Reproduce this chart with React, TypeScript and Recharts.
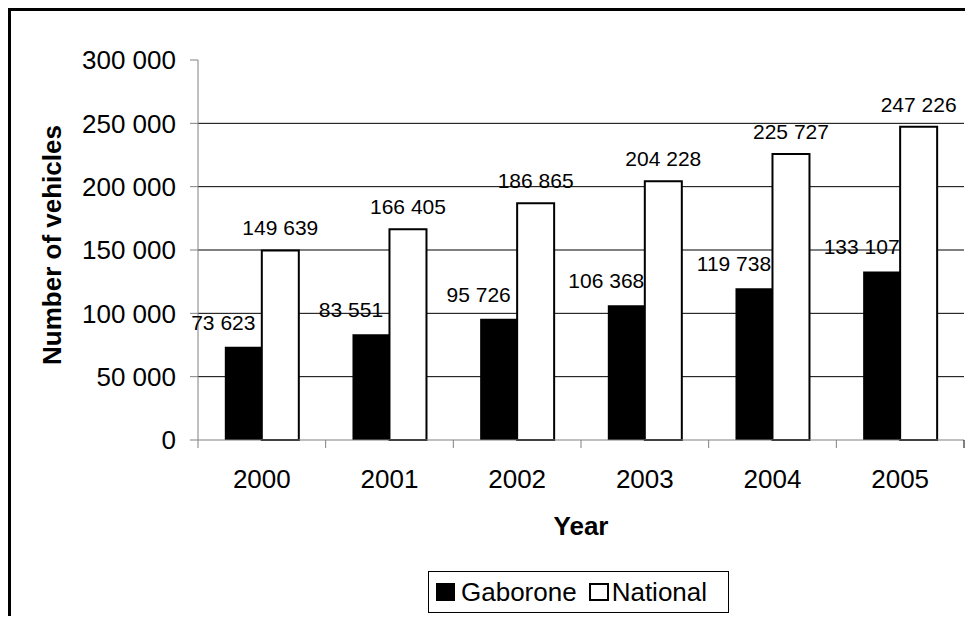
import { BarChart, Bar, XAxis, YAxis, CartesianGrid, LabelList, Label } from 'recharts';

const years = ['2000', '2001', '2002', '2003', '2004', '2005'];
const gaborone = [73623, 83551, 95726, 106368, 119738, 133107];
const national = [149639, 166405, 186865, 204228, 225727, 247226];
const yTicks = [0, 50000, 100000, 150000, 200000, 250000, 300000];
const gridValues = [50000, 100000, 150000, 200000, 250000];

const FONT = '"Liberation Sans", Arial, sans-serif';
const CHART_W = 954;
const CHART_H = 605;
const Y_W = 187;
const X_H = 176;
const MARGIN = { top: 49, right: 1, left: 0, bottom: 0 };
const BAND = (CHART_W - Y_W - MARGIN.right - MARGIN.left) / years.length;

const fmt = (v: number) => String(v).replace(/\B(?=(\d{3})+(?!\d))/g, ' ');

const data = years.map((y, i) => ({ year: y, Gaborone: gaborone[i], National: national[i] }));

function YearTick(props: any) {
    const { x, y, payload, index } = props;
    const left = x - BAND / 2;
    return (
        <g>
            <line x1={left} y1={y} x2={left} y2={y + 8} stroke="#808080" strokeWidth={1} />
            {index === years.length - 1 && (
                <line x1={x + BAND / 2} y1={y} x2={x + BAND / 2} y2={y + 8} stroke="#000" strokeWidth={1} />
            )}
            <text x={x} y={y + 48} textAnchor="middle" fontSize={26} fontFamily={FONT} fill="#000">
                {payload.value}
            </text>
        </g>
    );
}

// value label above a bar, on one line; shiftX / gap nudge it like the Excel original
function ValueLabel(props: any) {
    const { x, y, width, value, shiftX = 0, gap = 15 } = props;
    return (
        <text
            x={Number(x) + Number(width) / 2 + shiftX}
            y={Number(y) - gap}
            textAnchor="middle"
            fontSize={21}
            fontFamily={FONT}
            fill="#000"
            stroke="none"
        >
            {fmt(value)}
        </text>
    );
}

export default function App() {
    return (
        <div
            style={{
                position: 'relative',
                width: CHART_W,
                height: CHART_H,
                borderLeft: '3px solid #000',
                borderTop: '3px solid #000',
                fontFamily: FONT,
            }}
        >
            <BarChart
                width={CHART_W}
                height={CHART_H}
                data={data}
                margin={MARGIN}
                barCategoryGap="21%"
                barGap={0}
            >
                <CartesianGrid
                    vertical={false}
                    stroke="#000"
                    strokeWidth={1}
                    horizontalValues={gridValues}
                />
                <XAxis
                    dataKey="year"
                    height={X_H}
                    axisLine={{ stroke: '#808080', strokeWidth: 1 }}
                    tickLine={false}
                    tickSize={0}
                    tickMargin={0}
                    interval={0}
                    tick={<YearTick />}
                >
                    <Label
                        content={(p: any) => {
                            const vb = p.viewBox;
                            return (
                                <text
                                    x={vb.x + vb.width / 2}
                                    y={vb.y + 95}
                                    textAnchor="middle"
                                    fontSize={26}
                                    fontWeight="bold"
                                    fontFamily={FONT}
                                    fill="#000"
                                >
                                    Year
                                </text>
                            );
                        }}
                    />
                </XAxis>
                <YAxis
                    width={Y_W}
                    domain={[0, 300000]}
                    ticks={yTicks}
                    interval={0}
                    tickFormatter={fmt}
                    tick={{ fill: '#000', fontSize: 26, fontFamily: FONT }}
                    tickSize={8}
                    tickMargin={14}
                    axisLine={{ stroke: '#808080', strokeWidth: 1 }}
                    tickLine={{ stroke: '#808080', strokeWidth: 1 }}
                >
                    <Label
                        content={(p: any) => {
                            const vb = p.viewBox;
                            const cx = vb.x + 50;
                            const cy = vb.y + vb.height / 2 - 5;
                            return (
                                <text
                                    x={cx}
                                    y={cy}
                                    transform={`rotate(-90, ${cx}, ${cy})`}
                                    textAnchor="middle"
                                    fontSize={26}
                                    fontWeight="bold"
                                    fontFamily={FONT}
                                    fill="#000"
                                >
                                    Number of vehicles
                                </text>
                            );
                        }}
                    />
                </YAxis>
                <Bar dataKey="Gaborone" fill="#000" isAnimationActive={false}>
                    <LabelList dataKey="Gaborone" content={<ValueLabel shiftX={-20} gap={17} />} />
                </Bar>
                <Bar dataKey="National" fill="#fff" stroke="#000" strokeWidth={2} isAnimationActive={false}>
                    <LabelList dataKey="National" content={<ValueLabel gap={15} />} />
                </Bar>
            </BarChart>
            <div
                style={{
                    position: 'absolute',
                    left: 417,
                    top: 560,
                    width: 301,
                    height: 42,
                    boxSizing: 'border-box',
                    border: '1px solid #000',
                    display: 'flex',
                    alignItems: 'center',
                    paddingLeft: 7,
                    fontSize: 26,
                    color: '#000',
                    background: '#fff',
                }}
            >
                <span style={{ display: 'inline-block', width: 19, height: 18, background: '#000', marginRight: 6 }} />
                <span style={{ marginRight: 12 }}>Gaborone</span>
                <span
                    style={{
                        display: 'inline-block',
                        width: 20,
                        height: 18,
                        boxSizing: 'border-box',
                        border: '2px solid #000',
                        background: '#fff',
                        marginRight: 3,
                    }}
                />
                <span>National</span>
            </div>
        </div>
    );
}
